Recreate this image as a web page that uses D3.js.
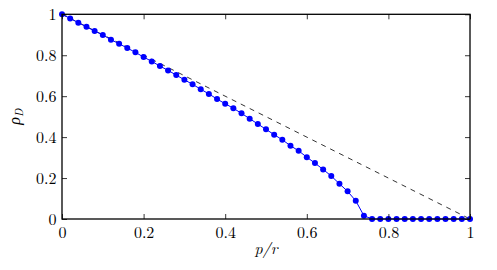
<!DOCTYPE html>
<html><head><meta charset="utf-8">
<script src="https://cdn.jsdelivr.net/npm/d3@7"></script>
<style>body{margin:0;background:#fff}</style>
</head><body>
<svg id="c" width="497" height="270"></svg>
<script>
const xValues = d3.range(0, 51).map(i => +(i * 0.02).toFixed(2));
const rhoD = [1.000,0.980,0.959,0.939,0.918,0.899,0.876,0.856,0.835,0.814,
  0.791,0.770,0.747,0.726,0.703,0.680,0.658,0.634,0.611,0.586,
  0.563,0.541,0.516,0.490,0.464,0.438,0.412,0.387,0.358,0.333,
  0.302,0.273,0.242,0.210,0.172,0.135,0.089,0.016,0,0,
  0,0,0,0,0,0,0,0,0,0,0];
const refX = [0, 1];
const refY = [1, 0];
const xTicks = [0, 0.2, 0.4, 0.6, 0.8, 1];
const yTicks = [0, 0.2, 0.4, 0.6, 0.8, 1];

const svg = d3.select("#c");
const L = 62, R = 470, T = 14.3, B = 219;
const x = d3.scaleLinear().domain([0, 1]).range([L, R]);
const y = d3.scaleLinear().domain([0, 1]).range([B, T]);
const font = "'Latin Modern Roman','CMU Serif','Liberation Serif','DejaVu Serif',serif";
const fmt = d => d === 0 ? "0" : d === 1 ? "1" : d3.format(".1f")(d);

// reference dashed line
svg.append("path")
  .datum(refX.map((v, i) => [v, refY[i]]))
  .attr("d", d3.line().x(d => x(d[0])).y(d => y(d[1])))
  .attr("fill", "none").attr("stroke", "#000").attr("stroke-width", 0.8)
  .attr("stroke-dasharray", "5,5");

// data line
const pts = xValues.map((v, i) => [v, rhoD[i]]);
svg.append("path").datum(pts)
  .attr("d", d3.line().x(d => x(d[0])).y(d => y(d[1])))
  .attr("fill", "none").attr("stroke", "#0000ff").attr("stroke-width", 1);
svg.append("g").selectAll("circle").data(pts).join("circle")
  .attr("cx", d => x(d[0])).attr("cy", d => y(d[1])).attr("r", 3)
  .attr("fill", "#0000ff");

// frame
svg.append("rect").attr("x", L).attr("y", T).attr("width", R - L).attr("height", B - T)
  .attr("fill", "none").attr("stroke", "#000").attr("stroke-width", 1.3);

// axes with inward ticks
const axB = svg.append("g").attr("transform", `translate(0,${B})`)
  .call(d3.axisBottom(x).tickValues(xTicks).tickSize(-5).tickPadding(8).tickFormat(fmt));
const axT = svg.append("g").attr("transform", `translate(0,${T})`)
  .call(d3.axisTop(x).tickValues(xTicks).tickSize(-5).tickFormat(""));
const axL = svg.append("g").attr("transform", `translate(${L},0)`)
  .call(d3.axisLeft(y).tickValues(yTicks).tickSize(-5).tickPadding(5.5).tickFormat(fmt));
const axR = svg.append("g").attr("transform", `translate(${R},0)`)
  .call(d3.axisRight(y).tickValues(yTicks).tickSize(-5).tickFormat(""));
[axB, axT, axL, axR].forEach(a => {
  a.select(".domain").remove();
  a.selectAll("line").attr("stroke", "#000").attr("stroke-width", 0.8);
  a.selectAll("text").attr("font-family", font).attr("font-size", 16).attr("fill", "#000");
});

// axis labels
svg.append("text").attr("x", x(0.5)).attr("y", 254).attr("text-anchor", "middle")
  .attr("font-family", font).attr("font-size", 16).attr("font-style", "italic")
  .text("p/r");
const yl = svg.append("text").attr("transform", `translate(20,${y(0.5)}) rotate(-90)`)
  .attr("text-anchor", "middle").attr("font-family", font).attr("font-size", 16)
  .attr("font-style", "italic");
yl.append("tspan").text("ρ");
yl.append("tspan").attr("font-size", 11).attr("dy", 3).text("D");
</script>
</body></html>
